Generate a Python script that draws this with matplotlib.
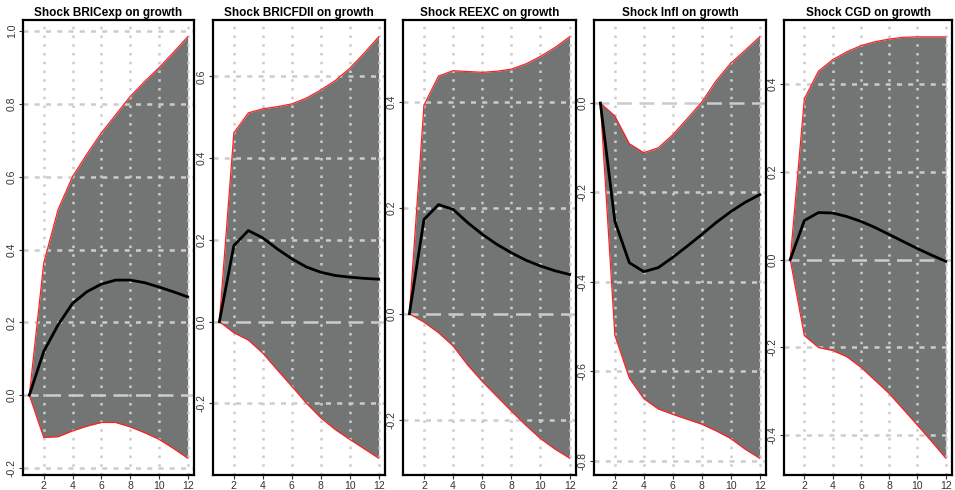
import numpy as np
import matplotlib
matplotlib.use("Agg")
import matplotlib.pyplot as plt

plt.rcParams['font.family'] = ['Liberation Sans', 'DejaVu Sans']

horizon = list(range(1, 13))

titles = ["Shock BRICexp on growth", "Shock BRICFDII on growth",
          "Shock REEXC on growth", "Shock Infl on growth", "Shock CGD on growth"]

bricexp_irf = [0.0, 0.12, 0.193, 0.252, 0.284, 0.305, 0.316, 0.316, 0.309, 0.297, 0.284, 0.27]
bricexp_up = [0.0, 0.363, 0.51, 0.60, 0.662, 0.72, 0.77, 0.82, 0.861, 0.899, 0.941, 0.984]
bricexp_lo = [0.0, -0.116, -0.114, -0.098, -0.085, -0.075, -0.075, -0.087, -0.103, -0.121, -0.146, -0.173]

bricfdi_irf = [0.0, 0.186, 0.223, 0.205, 0.178, 0.154, 0.134, 0.121, 0.113, 0.109, 0.106, 0.104]
bricfdi_up = [0.0, 0.462, 0.511, 0.521, 0.526, 0.533, 0.547, 0.567, 0.59, 0.62, 0.657, 0.697]
bricfdi_lo = [0.0, -0.027, -0.045, -0.077, -0.118, -0.158, -0.199, -0.235, -0.264, -0.288, -0.311, -0.334]

reexc_irf = [0.0, 0.178, 0.206, 0.197, 0.172, 0.15, 0.131, 0.115, 0.101, 0.09, 0.081, 0.074]
reexc_up = [0.0, 0.394, 0.449, 0.459, 0.4575, 0.456, 0.458, 0.462, 0.472, 0.486, 0.503, 0.523]
reexc_lo = [0.0, -0.016, -0.036, -0.061, -0.097, -0.128, -0.156, -0.184, -0.211, -0.236, -0.256, -0.273]

infl_irf = [0.0, -0.264, -0.357, -0.377, -0.368, -0.345, -0.32, -0.294, -0.267, -0.243, -0.222, -0.205]
infl_up = [0.0, -0.029, -0.091, -0.111, -0.1, -0.071, -0.035, 0.002, 0.05, 0.089, 0.118, 0.148]
infl_lo = [0.0, -0.519, -0.615, -0.661, -0.684, -0.696, -0.707, -0.718, -0.733, -0.75, -0.774, -0.794]

cgd_irf = [0.0, 0.089, 0.107, 0.106, 0.098, 0.087, 0.073, 0.057, 0.041, 0.025, 0.01, -0.004]
cgd_up = [0.0, 0.366, 0.429, 0.455, 0.473, 0.487, 0.496, 0.502, 0.506, 0.507, 0.507, 0.507]
cgd_lo = [0.0, -0.173, -0.2, -0.207, -0.221, -0.245, -0.275, -0.305, -0.341, -0.377, -0.414, -0.452]

yticks_list = [
    [-0.2, 0.0, 0.2, 0.4, 0.6, 0.8, 1.0],
    [-0.2, 0.0, 0.2, 0.4, 0.6],
    [-0.2, 0.0, 0.2, 0.4],
    [-0.8, -0.6, -0.4, -0.2, 0.0],
    [-0.4, -0.2, 0.0, 0.2, 0.4],
]
xticks = [2, 4, 6, 8, 10, 12]

series = [
    (bricexp_irf, bricexp_lo, bricexp_up),
    (bricfdi_irf, bricfdi_lo, bricfdi_up),
    (reexc_irf, reexc_lo, reexc_up),
    (infl_irf, infl_lo, infl_up),
    (cgd_irf, cgd_lo, cgd_up),
]

W, H = 955, 490
fig = plt.figure(figsize=(W / 100, H / 100), dpi=100)
lefts = [23, 213, 403, 594, 784]
rights = [194, 385, 576, 766, 952]
top_px, bot_px = 20, 475

for i in range(5):
    l, r = lefts[i], rights[i]
    ax = fig.add_axes([l / W, 1 - bot_px / H, (r - l) / W, (bot_px - top_px) / H])
    irf, lo, up = series[i]
    x = np.array(horizon)
    ax.fill_between(x, lo, up, color='#737575', lw=0, zorder=1)
    ax.plot(x, up, color='#ff2020', lw=0.9, zorder=3)
    ax.plot(x, lo, color='#ff2020', lw=0.9, zorder=3)
    ax.plot(x, irf, color='black', lw=2.0, zorder=4)
    # grid
    for xv in xticks:
        ax.axvline(xv, color='#cccccc', lw=1.8, ls=(0, (1, 2.5)), zorder=2)
    for yv in yticks_list[i]:
        if yv != 0.0:
            ax.axhline(yv, color='#cccccc', lw=1.8, ls=(0, (2, 2.5)), zorder=2)
    ax.axhline(0.0, color='#cccccc', lw=1.8, ls=(0, (6, 3)), zorder=2)
    ymin = min(lo)
    ymax = max(up)
    pad = (ymax - ymin) * 0.04
    ax.set_ylim(ymin - pad, ymax + pad)
    ax.set_xlim(1 - 11 * 0.04, 12 + 11 * 0.04)
    ax.set_xticks(xticks)
    ax.set_yticks(yticks_list[i])
    ax.set_yticklabels([f"{v:.1f}" for v in yticks_list[i]], rotation=90, va='center')
    ax.tick_params(axis='both', labelsize=7.5, length=3, width=0.8, pad=1.5,
                   colors='#333333')
    for s in ax.spines.values():
        s.set_linewidth(1.6)
        s.set_color('black')
    ax.set_title(titles[i], fontsize=8.5, fontweight='bold', pad=3)

fig.savefig("out.png", dpi=100)
